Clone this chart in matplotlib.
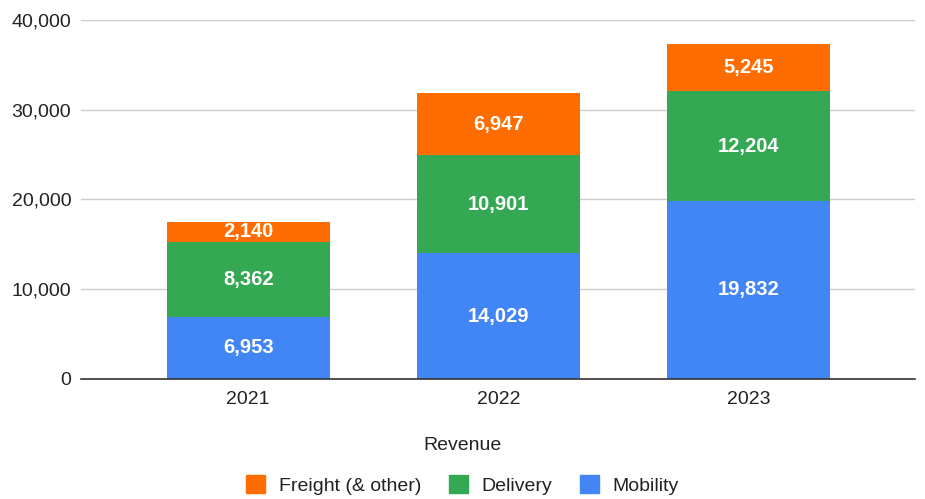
import matplotlib
matplotlib.use('Agg')
import matplotlib.pyplot as plt
import matplotlib.ticker as mticker
from matplotlib.patches import Patch
import numpy as np

# data (revenue, $M)
years = ['2021', '2022', '2023']
mobility = [6953, 14029, 19832]
delivery = [8362, 10901, 12204]
freight = [2140, 6947, 5245]

COLORS = {
    'mobility': '#4285F4',
    'delivery': '#34A853',
    'freight': '#FF6D01',
    'grid': '#CCCCCC',
    'text': '#222222',
}

plt.rcParams.update({
    'font.family': ['Liberation Sans', 'DejaVu Sans'],
    'font.size': 14,
    'text.color': COLORS['text'],
    'xtick.color': COLORS['text'],
    'ytick.color': COLORS['text'],
})

fig = plt.figure(figsize=(9.25, 4.99), dpi=100)
ax = fig.add_axes([0.0876, 0.2405, 0.9014, 0.7195])

x = np.arange(len(years))
w = 0.65
b1 = ax.bar(x, mobility, w, color=COLORS['mobility'], zorder=3)
bottom2 = np.array(mobility)
b2 = ax.bar(x, delivery, w, bottom=bottom2, color=COLORS['delivery'], zorder=3)
bottom3 = bottom2 + np.array(delivery)
b3 = ax.bar(x, freight, w, bottom=bottom3, color=COLORS['freight'], zorder=3)

for bars in (b1, b2, b3):
    ax.bar_label(bars, labels=[f'{v:,.0f}' for v in bars.datavalues],
                 label_type='center', color='white', fontweight='bold',
                 fontsize=14.5, zorder=4)

ax.set_xlim(-0.668, 2.664)
ax.set_ylim(0, 40000)
ax.set_yticks([0, 10000, 20000, 30000, 40000])
ax.yaxis.set_major_formatter(mticker.FuncFormatter(lambda v, _: f'{v:,.0f}'))
ax.set_xticks(x)
ax.set_xticklabels(years)
ax.tick_params(axis='both', length=0)
ax.tick_params(axis='y', pad=7)
ax.tick_params(axis='x', pad=9)

ax.grid(axis='y', color=COLORS['grid'], linewidth=1, zorder=0)
for s in ('top', 'right', 'left'):
    ax.spines[s].set_visible(False)
ax.spines['bottom'].set_color('#333333')
ax.spines['bottom'].set_linewidth(1.2)
ax.spines['bottom'].set_zorder(5)

fig.text(0.5, 1 - 445 / 499, 'Revenue', ha='center', va='center', fontsize=14)

handles = [Patch(color=COLORS['freight'], label='Freight (& other)'),
           Patch(color=COLORS['delivery'], label='Delivery'),
           Patch(color=COLORS['mobility'], label='Mobility')]
fig.legend(handles=handles, loc='center', bbox_to_anchor=(0.5, 1 - 485 / 499),
           ncol=3, frameon=False, fontsize=14, handlelength=1.0, handleheight=1.0,
           handletextpad=0.7, columnspacing=1.4)

fig.savefig('out.png', dpi=100)
